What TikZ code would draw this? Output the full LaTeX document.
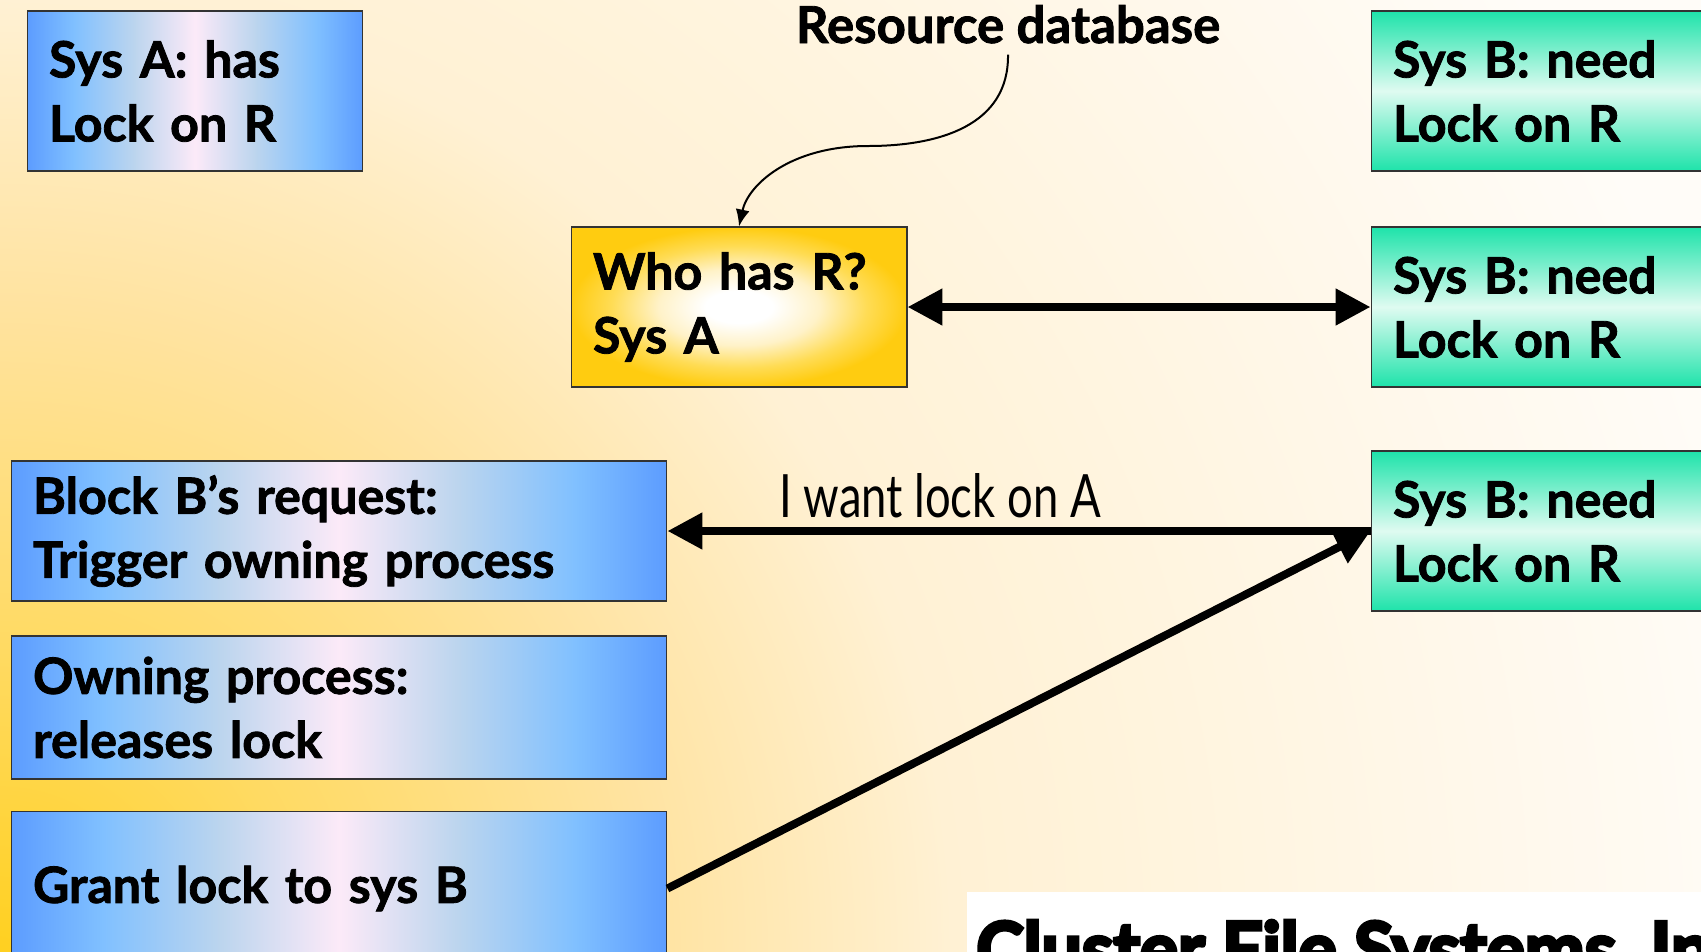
\documentclass[tikz,border=0pt]{standalone}
\usepackage{fontspec}
\setmainfont{Lato}[BoldFeatures={FakeBold=1.6}]
\newfontfamily\heavyfont{Lato}[BoldFeatures={FakeBold=5}]
\usetikzlibrary{arrows.meta}
\definecolor{bggold}{HTML}{FFD020}
\definecolor{bgsun}{HTML}{FFDA62}
\definecolor{bgpeach}{HTML}{FFE3A0}
\definecolor{bgcream}{HTML}{FFF1D4}
\definecolor{bgwhite}{HTML}{FFFCF8}
\definecolor{boxblue}{HTML}{5C9CFF}
\definecolor{skyblue}{HTML}{80C0FF}
\definecolor{greyblue}{HTML}{BCD5EE}
\definecolor{pinkwhite}{HTML}{FCEAF8}
\definecolor{mintedge}{HTML}{1EE3AA}
\definecolor{mintpale}{HTML}{DFFBF1}
\definecolor{goldedge}{HTML}{FFCC10}
\definecolor{goldmid}{HTML}{FFDC55}
\definecolor{goldpale}{HTML}{FFF2C8}
\pgfdeclareradialshading{backshade}{\pgfpoint{0bp}{0bp}}{color(0bp)=(bggold); color(3.75bp)=(bgsun); color(8.1bp)=(bgpeach); color(11.9bp)=(bgcream); color(22.5bp)=(bgwhite); color(50bp)=(bgwhite)}
\pgfdeclarehorizontalshading{blueshade}{100bp}{color(0bp)=(boxblue); color(25bp)=(boxblue); color(32bp)=(skyblue); color(41bp)=(greyblue); color(50bp)=(pinkwhite); color(59bp)=(greyblue); color(68bp)=(skyblue); color(75bp)=(boxblue); color(100bp)=(boxblue)}
\pgfdeclareverticalshading{mintshade}{100bp}{color(0bp)=(mintedge); color(25bp)=(mintedge); color(50bp)=(mintpale); color(75bp)=(mintedge); color(100bp)=(mintedge)}
\pgfdeclareradialshading{goldshade}{\pgfpoint{0bp}{0bp}}{color(0bp)=(white); color(5bp)=(white); color(12bp)=(goldpale); color(19bp)=(goldmid); color(25bp)=(goldedge); color(50bp)=(goldedge)}
\newcommand\boxfont{\fontsize{28.5pt}{36.4pt}\selectfont\bfseries}

\begin{document}
\begin{tikzpicture}[x=0.02cm,y=-0.02cm,
    box/.style={draw=black!80, line width=0.6pt, rectangle, inner xsep=0.44cm,
        text width=5.84cm, minimum height=3.2cm, align=left, font=\boxfont},
    widebox/.style={box, text width=12.24cm},
    sysbox/.style={box, shading=blueshade},
    needbox/.style={box, shading=mintshade},
    querybox/.style={box, shading=goldshade},
    bigarrow/.style={line width=1.6mm, -{Triangle[length=7mm,width=7mm]}}]
    \useasboundingbox (0,0) rectangle (1701,951);
    \clip (0,0) rectangle (1701,951);
    \shade[shading=backshade] (0,951) circle (40cm);
    % boxes
    \node[sysbox] (sysa) at (195,91) {Sys A: has\\Lock on R};
    \node[querybox] (whor) at (739,307) {Who has R?\\Sys A};
    \node[needbox] (sysbone) at (1539,91) {Sys B: need\\Lock on R};
    \node[needbox] (sysbtwo) at (1539,307) {Sys B: need\\Lock on R};
    \node[needbox] (sysbthree) at (1539,531) {Sys B: need\\Lock on R};
    \node[sysbox, widebox, minimum height=2.8cm] (block) at (339,531) {Block B’s request:\\Trigger owning process};
    \node[sysbox, widebox, minimum height=2.86cm] (owning) at (339,707.5) {Owning process:\\releases lock};
    \node[sysbox, widebox, minimum height=3.1cm] (grant) at (339,888.5) {Grant lock to sys B};
    % labels
    \node[anchor=base, font=\fontsize{29pt}{36pt}\selectfont\bfseries] (resdb) at (1008,43) {Resource database};
    \node[anchor=base, font=\fontsize{34pt}{40pt}\selectfont] (want) at (940,517) {\scalebox{0.76}[1]{I want lock on A}};
    % arrows
    \draw[line width=0.04cm, -{Latex[length=3.4mm,width=2.8mm]}] ([yshift=-0.1cm]resdb.south)
        .. controls (1009,125) and (940,146) .. (868,146)
        .. controls (790,146) and (748,185) .. (whor.north);
    \draw[bigarrow, {Triangle[length=7mm,width=7mm]}-{Triangle[length=7mm,width=7mm]}] (whor) -- (sysbtwo);
    \draw[bigarrow] (sysbthree) -- (block);
    \draw[bigarrow] (grant.east) -- (sysbthree.west);
    % footer
    \fill[white] (967,892) rectangle (1701,960);
    \node[anchor=north west, inner sep=0pt, font=\fontsize{42pt}{48pt}\selectfont\heavyfont\bfseries] (cfs) at (976,920) {\scalebox{0.97}[1]{Cluster File Systems, Inc.}};
\end{tikzpicture}
\end{document}
